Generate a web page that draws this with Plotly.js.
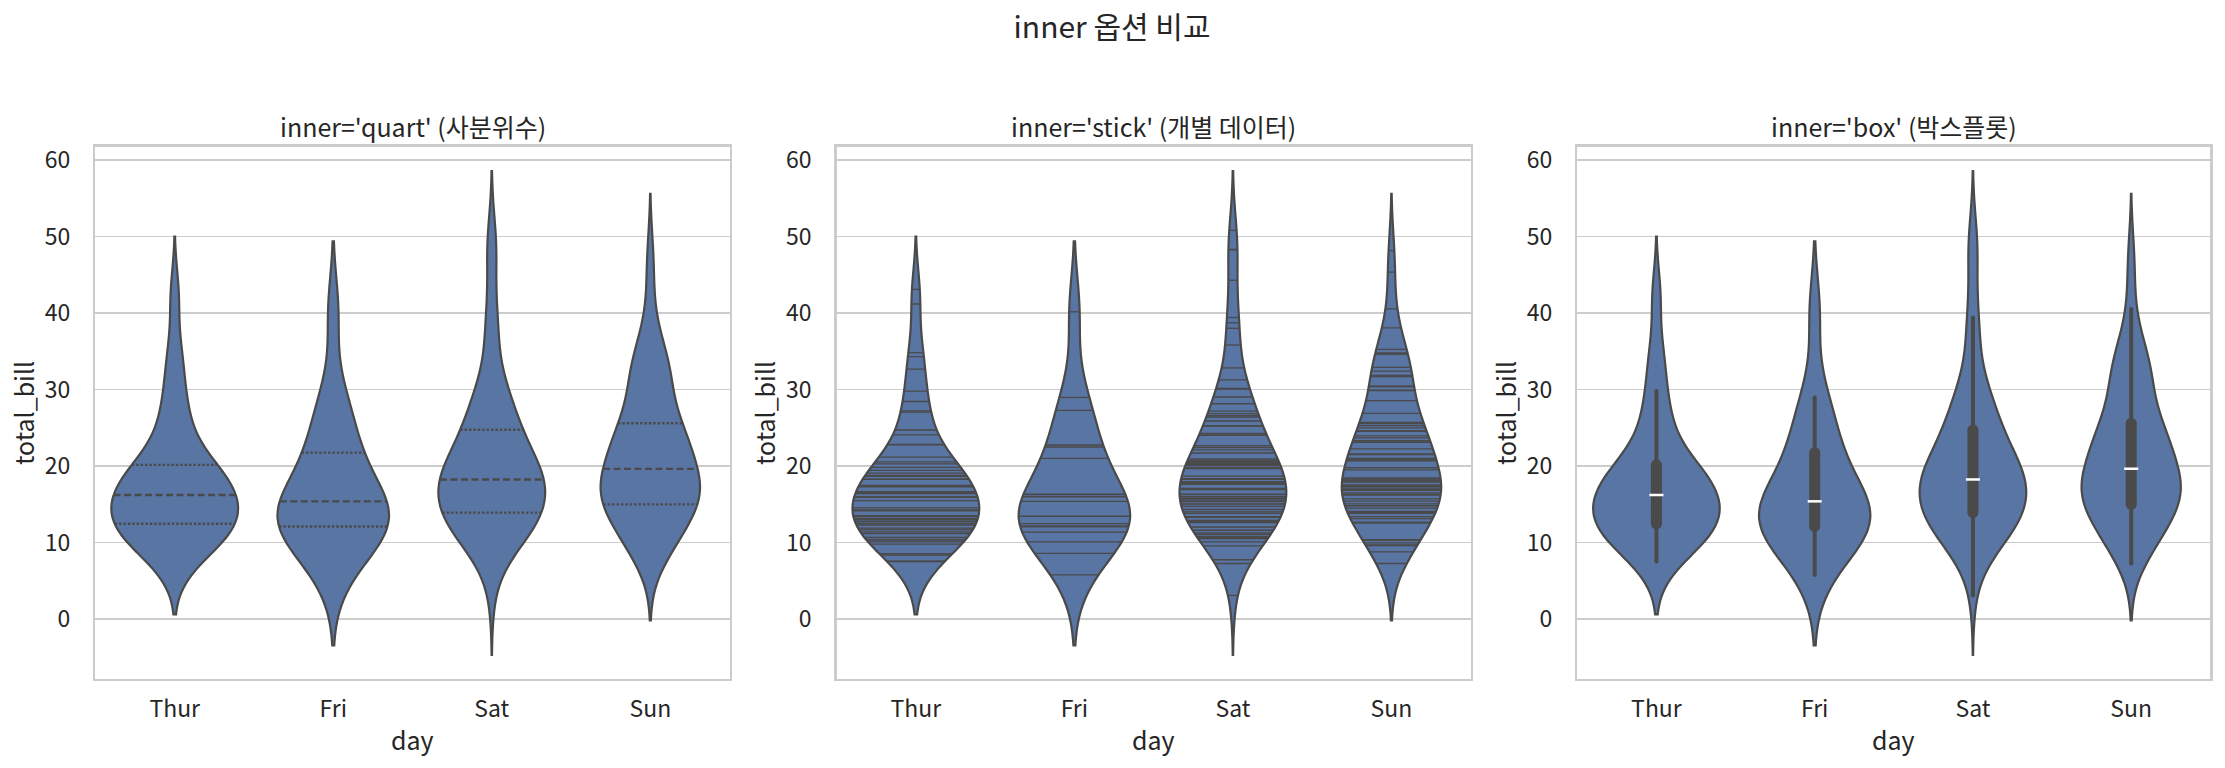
<!DOCTYPE html>
<html><head><meta charset="utf-8">
<script src="https://cdn.plot.ly/plotly-3.0.1.min.js"></script>
<style>html,body{margin:0;padding:0;background:#fff;} #chart{width:2225px;height:768px;}</style>
</head><body><div id="chart"></div>
<script>
// ---------- data (tips: total_bill by day) ----------
const days = ['Thur', 'Fri', 'Sat', 'Sun'];
const thur = [27.20, 22.76, 17.29, 19.44, 16.66, 10.07, 32.68, 15.98, 34.83, 13.03, 18.28, 24.71, 21.16,
  10.65, 12.43, 24.08, 11.69, 13.42, 14.26, 15.95, 12.48, 29.80, 8.52, 14.52, 11.38, 22.82, 19.08, 20.27,
  11.17, 12.26, 18.26, 8.51, 10.33, 14.15, 16.00, 13.16, 17.47, 34.30, 41.19, 27.05, 16.43, 8.35, 18.64,
  11.87, 9.78, 7.51, 19.81, 28.44, 15.48, 16.58, 7.56, 10.34, 43.11, 13.00, 13.51, 18.71, 12.74, 13.00,
  16.40, 20.53, 16.47, 18.78];
const fri = [28.97, 22.49, 5.75, 16.32, 22.75, 40.17, 27.28, 12.03, 21.01, 12.46, 11.35, 15.38,
  12.16, 13.42, 8.58, 15.98, 13.42, 16.27, 10.09];
const sat = [20.65, 17.92, 20.29, 15.77, 39.42, 19.82, 17.81, 13.37, 12.69, 21.70, 19.65, 9.55, 18.35,
  15.06, 20.69, 17.78, 24.06, 16.31, 16.93, 18.69, 31.27, 16.04, 38.01, 26.41, 11.24, 48.27, 20.29, 13.81,
  11.02, 18.29, 17.59, 20.08, 16.00, 3.07, 20.23, 15.01, 12.02, 17.07, 26.86, 25.28, 14.73, 10.51, 17.92,
  44.30, 22.42, 20.92, 15.36, 20.49, 25.21, 18.24, 14.31, 14.00, 7.25, 10.59, 10.63, 50.81, 15.81,
  26.59, 38.73, 24.27, 12.76, 30.06, 25.89, 48.33, 13.27, 28.17, 12.90, 28.15, 11.59, 7.74, 30.14,
  20.45, 13.28, 22.12, 24.01, 15.69, 11.61, 10.77, 15.53, 10.07, 12.60, 32.83, 35.83, 29.03, 27.18,
  22.67, 17.82];
const sun = [16.99, 10.34, 21.01, 23.68, 24.59, 25.29, 8.77, 26.88, 15.04, 14.78, 10.27, 35.26, 15.42,
  18.43, 14.83, 21.58, 10.33, 16.29, 16.97, 17.46, 13.94, 9.68, 30.40, 18.29, 22.23, 32.40, 28.55, 18.04,
  12.54, 10.29, 34.81, 9.94, 25.56, 19.49, 38.07, 23.95, 25.71, 17.31, 29.93, 14.07, 13.13, 17.26, 24.55,
  19.77, 29.85, 48.17, 25.00, 13.39, 16.49, 21.50, 12.66, 16.21, 13.81, 17.51, 24.52, 20.76, 31.71,
  7.25, 31.85, 16.82, 32.90, 17.89, 14.48, 9.60, 34.63, 34.65, 23.33, 45.35, 23.17, 40.55, 20.69, 20.90,
  30.46, 18.15, 23.10, 15.69];
const panelTitles = ["inner='quart' (사분위수)", "inner='stick' (개별 데이터)", "inner='box' (박스플롯)"];
const figTitle = 'inner 옵션 비교';
const xLabel = 'day';
const yLabel = 'total_bill';
const yTicks = [0, 10, 20, 30, 40, 50, 60];

// ---------- styles ----------
const FILL = '#5875a4', GRAY = '#4a4a4a', TEXT = '#262626', GRID = '#cccccc';
const FONT = '"Noto Sans CJK KR", "Noto Sans", sans-serif';
const xDomains = [[0.0429, 0.3279], [0.3760, 0.6610], [0.7089, 0.9934]];
const yDomain = [0.1159, 0.8087];
const VWIDTH = 0.8;

// ---------- statistics ----------
const groups = [thur, fri, sat, sun];
function quant(s, p) { const pos = p * (s.length - 1); const lo = Math.floor(pos), hi = Math.ceil(pos); return s[lo] + (s[hi] - s[lo]) * (pos - lo); }
const info = groups.map(a => {
  const s = [...a].sort((x, y) => x - y), n = s.length;
  const mean = s.reduce((p, c) => p + c, 0) / n;
  const sd = Math.sqrt(s.reduce((p, c) => p + (c - mean) ** 2, 0) / (n - 1));
  const bw = sd * Math.pow(n, -0.2); // Scott
  const c = 1 / (n * bw * Math.sqrt(2 * Math.PI));
  const f = y => c * s.reduce((p, v) => p + Math.exp(-0.5 * ((y - v) / bw) ** 2), 0);
  const lo = s[0] - 2 * bw, hi = s[n - 1] + 2 * bw;
  let peak = 0; for (let k = 0; k <= 600; k++) peak = Math.max(peak, f(lo + (hi - lo) * k / 600));
  const q1 = quant(s, 0.25), q2 = quant(s, 0.5), q3 = quant(s, 0.75), iqr = q3 - q1;
  const wlo = s.find(v => v >= q1 - 1.5 * iqr), whi = [...s].reverse().find(v => v <= q3 + 1.5 * iqr);
  return { s, bw, f, lo, hi, peak, q1, q2, q3, wlo, whi };
});
const gmax = Math.max(...info.map(d => d.peak));
const halfW = (d, y) => VWIDTH / 2 * d.f(y) / gmax;
let yLo = Math.min(...info.map(d => d.lo)), yHi = Math.max(...info.map(d => d.hi));
const pad = 0.05 * (yHi - yLo);
const yRange = [yLo - pad, yHi + pad];

// ---------- traces ----------
const traces = [];
for (let p = 0; p < 3; p++) {
  const xa = 'x' + (p + 1), ya = 'y' + (p + 1);
  groups.forEach((g, i) => {
    const d = info[i];
    traces.push({
      type: 'violin', y: g, x0: i, xaxis: xa, yaxis: ya, name: days[i], orientation: 'v',
      bandwidth: d.bw, spanmode: 'soft', width: VWIDTH * d.peak / gmax, scalemode: 'width',
      points: false, fillcolor: FILL, line: { color: GRAY, width: 2.2 },
      box: { visible: false }, meanline: { visible: false }, hoverinfo: 'skip', showlegend: false
    });
  });
  if (p === 0) {
    const mx = [], my = [], qx = [], qy = [];
    info.forEach((d, i) => {
      let w = halfW(d, d.q2); mx.push(i - w, i + w, null); my.push(d.q2, d.q2, null);
      [d.q1, d.q3].forEach(q => { w = halfW(d, q); qx.push(i - w, i + w, null); qy.push(q, q, null); });
    });
    traces.push({ type: 'scatter', mode: 'lines', x: mx, y: my, xaxis: xa, yaxis: ya, line: { color: GRAY, width: 2.4, dash: '7px,3.5px' }, hoverinfo: 'skip', showlegend: false });
    traces.push({ type: 'scatter', mode: 'lines', x: qx, y: qy, xaxis: xa, yaxis: ya, line: { color: GRAY, width: 2.4, dash: '2.4px,2px' }, hoverinfo: 'skip', showlegend: false });
  } else if (p === 1) {
    const sx = [], sy = [];
    info.forEach((d, i) => d.s.forEach(v => { const w = halfW(d, v); sx.push(i - w, i + w, null); sy.push(v, v, null); }));
    traces.push({ type: 'scatter', mode: 'lines', x: sx, y: sy, xaxis: xa, yaxis: ya, line: { color: GRAY, width: 1.3 }, hoverinfo: 'skip', showlegend: false });
  } else {
    info.forEach((d, i) => {
      traces.push({ type: 'scatter', mode: 'lines+markers', x: [i, i], y: [d.wlo, d.whi], xaxis: xa, yaxis: ya, line: { color: GRAY, width: 4 }, marker: { color: GRAY, size: 4 }, hoverinfo: 'skip', showlegend: false });
      traces.push({ type: 'scatter', mode: 'lines+markers', x: [i, i], y: [d.q1, d.q3], xaxis: xa, yaxis: ya, line: { color: GRAY, width: 11 }, marker: { color: GRAY, size: 11 }, hoverinfo: 'skip', showlegend: false });
      traces.push({ type: 'scatter', mode: 'markers', x: [i], y: [d.q2], xaxis: xa, yaxis: ya, marker: { symbol: 'line-ew', size: 10, line: { color: '#ffffff', width: 2.5 } }, hoverinfo: 'skip', showlegend: false });
    });
  }
}

// ---------- layout ----------
const annotations = panelTitles.map((t, p) => ({
  text: t, xref: 'paper', yref: 'paper', x: (xDomains[p][0] + xDomains[p][1]) / 2, y: 1 - 126 / 768,
  xanchor: 'center', yanchor: 'middle', showarrow: false, font: { size: 25, color: TEXT, family: FONT }
}));
// x-axis titles placed as annotations for exact vertical position
xDomains.forEach(dm => annotations.push({
  text: xLabel, xref: 'paper', yref: 'paper', x: (dm[0] + dm[1]) / 2, y: 1 - 739 / 768,
  xanchor: 'center', yanchor: 'middle', showarrow: false, font: { size: 25, color: TEXT, family: FONT }
}));
const layout = {
  width: 2225, height: 768, margin: { l: 0, r: 0, t: 0, b: 0 },
  paper_bgcolor: '#ffffff', plot_bgcolor: '#ffffff',
  font: { family: FONT, color: TEXT, size: 23 },
  violinmode: 'overlay', showlegend: false,
  title: { text: figTitle, x: 0.4998, xanchor: 'center', y: 1 - 27 / 768, yanchor: 'middle', font: { size: 30, color: TEXT, family: FONT } },
  annotations
};
for (let p = 0; p < 3; p++) {
  const k = p === 0 ? '' : String(p + 1);
  layout['xaxis' + k] = {
    domain: xDomains[p], anchor: 'y' + (p + 1), range: [-0.5, 3.5], tickvals: [0, 1, 2, 3], ticktext: days,
    showgrid: false, zeroline: false, showline: true, mirror: true, linecolor: GRID, linewidth: 2.5,
    ticks: '', ticklabelstandoff: 8, tickfont: { size: 23, color: TEXT, family: FONT }, fixedrange: true
  };
  layout['yaxis' + k] = {
    domain: yDomain, anchor: 'x' + (p + 1), range: yRange, tickvals: yTicks,
    showgrid: true, gridcolor: GRID, gridwidth: 1.6, zeroline: false, showline: true, mirror: true,
    linecolor: GRID, linewidth: 2.5, ticks: '', ticklabelstandoff: 18, tickfont: { size: 23, color: TEXT, family: FONT },
    fixedrange: true, title: { text: yLabel, font: { size: 25, color: TEXT, family: FONT } }
  };
}
Plotly.newPlot('chart', traces, layout, { displayModeBar: false, staticPlot: true });
</script></body></html>
